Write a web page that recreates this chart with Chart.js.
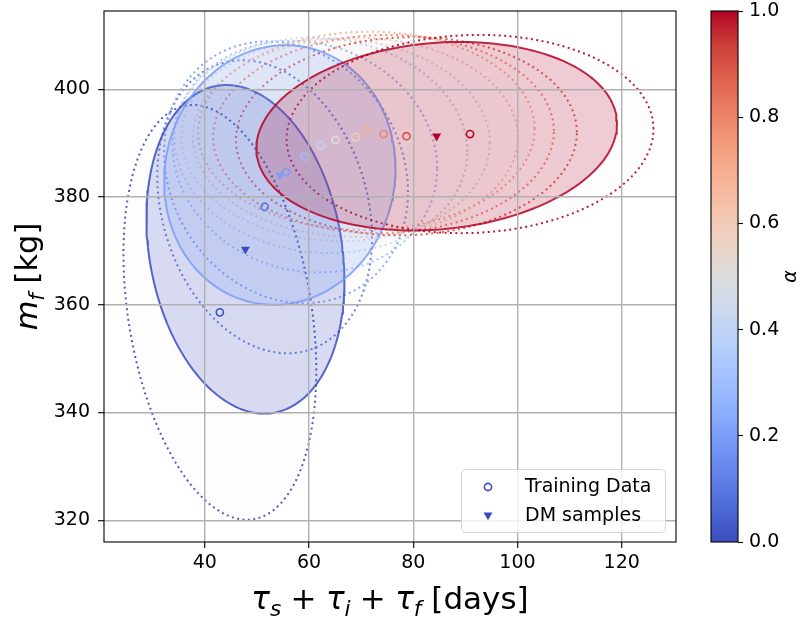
<!DOCTYPE html>
<html><head><meta charset="utf-8">
<script src="https://cdn.jsdelivr.net/npm/chart.js@4.4.1/dist/chart.umd.min.js"></script>
<style>
html,body{margin:0;padding:0;background:#fff;}
#wrap{position:relative;width:807px;height:620px;overflow:hidden;}
#main{position:absolute;left:0;top:0;}
#cbar{position:absolute;left:700px;top:0;}
</style></head><body>
<div id="wrap"><canvas id="main" width="807" height="620"></canvas><canvas id="cbar" width="107" height="620"></canvas></div>
<script>
// ---------------- data ----------------
const trainAlpha = [0.0, 0.1, 0.2, 0.3, 0.4, 0.5, 0.6, 0.7, 0.8, 0.9, 1.0];
const trainX = [42.9, 51.5, 55.6, 59.2, 62.3, 65.1, 68.9, 71.0, 74.3, 78.7, 90.9];
const trainY = [358.6, 378.2, 384.6, 387.5, 389.6, 390.6, 391.1, 392.3, 391.7, 391.3, 391.7];
// ellipse of each training set: half-width (days), half-height (kg), correlation
const trainSx = [18.5, 20.6, 23.4, 25.4, 28.1, 29.6, 31.2, 32.3, 32.7, 32.7, 35.2];
const trainSy = [38.5, 27.2, 24.3, 21.5, 20.0, 18.8, 18.5, 18.4, 18.4, 18.4, 18.4];
const trainR  = [-0.28, -0.21, -0.15, -0.10, -0.06, -0.03, 0.0, 0.02, 0.03, 0.04, 0.05];

const dmAlpha = [0.0, 0.2, 1.0];
const dmX = [47.8, 54.4, 84.5];
const dmY = [370.3, 384.1, 391.3];
const dmSx = [19.0, 22.2, 34.6];
const dmSy = [30.5, 24.1, 17.5];
const dmR  = [-0.19, 0.05, 0.13];

const xTicks = [40, 60, 80, 100, 120];
const xTickLabels = ['40', '60', '80', '100', '120'];
const yTicks = [320, 340, 360, 380, 400];
const yTickLabels = ['320', '340', '360', '380', '400'];
const cbarTicks = [0.0, 0.2, 0.4, 0.6, 0.8, 1.0];
const cbarTickLabels = ['0.0', '0.2', '0.4', '0.6', '0.8', '1.0'];
const legendLabels = ['Training Data', 'DM samples'];
const xRange = [20.67, 130.42];
const yRange = [315.97, 414.54];

// ---------------- coolwarm colormap ----------------
const CW = [[0,59,76,192],[0.0625,77,104,215],[0.125,98,130,234],[0.1875,119,154,247],[0.25,141,176,254],
 [0.3125,163,194,255],[0.375,184,208,249],[0.4375,204,217,238],[0.5,221,221,221],[0.5625,236,211,197],
 [0.625,245,196,173],[0.6875,247,177,148],[0.75,244,154,123],[0.8125,236,127,99],[0.875,222,96,77],
 [0.9375,203,62,56],[1,180,4,38]];
function cmap(v, a) {
  if (a === undefined) a = 1;
  v = Math.max(0, Math.min(1, v));
  let i = 0;
  while (i < CW.length - 2 && v > CW[i + 1][0]) i++;
  const s = CW[i], e = CW[i + 1], f = (v - s[0]) / (e[0] - s[0]);
  const c = [1, 2, 3].map(k => Math.round(s[k] + (e[k] - s[k]) * f));
  return `rgba(${c[0]},${c[1]},${c[2]},${a})`;
}
function ellipsePts(cx, cy, sx, sy, r) {
  const n = 180, q = Math.sqrt(1 - r * r), pts = [];
  for (let k = 0; k <= n; k++) {
    const t = 2 * Math.PI * k / n;
    pts.push({x: cx + sx * Math.cos(t), y: cy + sy * (r * Math.cos(t) + q * Math.sin(t))});
  }
  return pts;
}

// ---------------- datasets ----------------
const datasets = [];
datasets.push({
  label: legendLabels[0], showLine: false, order: 0,
  data: trainX.map((x, i) => ({x, y: trainY[i]})),
  pointStyle: 'circle', pointRadius: 3.6, pointBorderWidth: 1.6,
  pointBorderColor: trainAlpha.map(a => cmap(a)), pointBackgroundColor: 'rgba(0,0,0,0)'
});
datasets.push({
  label: legendLabels[1], showLine: false, order: 1,
  data: dmX.map((x, i) => ({x, y: dmY[i]})),
  pointStyle: 'triangle', pointRotation: 180, pointRadius: 5.2, pointBorderWidth: 0,
  pointBackgroundColor: dmAlpha.map(a => cmap(a)), pointBorderColor: dmAlpha.map(a => cmap(a))
});
dmAlpha.forEach((a, i) => {
  datasets.push({
    order: 4 - i,
    data: ellipsePts(dmX[i], dmY[i], dmSx[i], dmSy[i], dmR[i]),
    borderColor: cmap(a, 0.85), borderWidth: 2, backgroundColor: cmap(a, 0.2),
    fill: 'shape', pointRadius: 0, pointHitRadius: 0, tension: 0
  });
});
trainAlpha.forEach((a, i) => {
  datasets.push({
    order: 30 - i,
    data: ellipsePts(trainX[i], trainY[i], trainSx[i], trainSy[i], trainR[i]),
    borderColor: cmap(a, 0.9), borderWidth: 2, borderDash: [2, 3.4], borderCapStyle: 'butt',
    backgroundColor: 'rgba(0,0,0,0.006)', fill: 'shape', pointRadius: 0, pointHitRadius: 0, tension: 0
  });
});

// ---------------- helpers ----------------
const FAM = 'DejaVu Sans';
function drawRich(ctx, parts, size, cx, cy, rot) {
  ctx.save();
  ctx.translate(cx, cy);
  ctx.rotate(rot);
  ctx.textBaseline = 'alphabetic';
  ctx.textAlign = 'left';
  const fontFor = p => `${p.it ? 'italic ' : ''}${p.sub ? size * 0.7 : size}px ${FAM}`;
  let w = 0;
  parts.forEach(p => { ctx.font = fontFor(p); w += (p.pad || 0) * size * 2 + ctx.measureText(p.t).width; });
  let x = -w / 2;
  parts.forEach(p => {
    ctx.font = fontFor(p);
    x += (p.pad || 0) * size;
    ctx.fillText(p.t, x, p.sub ? size * 0.22 : 0);
    x += ctx.measureText(p.t).width + (p.pad || 0) * size;
  });
  ctx.restore();
}
function noPadY(s) { s.paddingTop = 0; s.paddingBottom = 0; }
function noPadX(s) { s.paddingLeft = 0; s.paddingRight = 0; }

const mainPlugin = {
  id: 'mainDeco',
  afterDraw(chart) {
    const ctx = chart.ctx, a = chart.chartArea;
    ctx.save();
    ctx.strokeStyle = '#000'; ctx.lineWidth = 1.1;
    ctx.strokeRect(a.left, a.top, a.right - a.left, a.bottom - a.top);
    // axis labels
    ctx.fillStyle = '#000';
    drawRich(ctx, [{t: 'τ', it: 1}, {t: 's', it: 1, sub: 1}, {t: '+', pad: 0.3}, {t: 'τ', it: 1}, {t: 'i', it: 1, sub: 1},
      {t: '+', pad: 0.3}, {t: 'τ', it: 1}, {t: 'f', it: 1, sub: 1}, {t: ' [days]'}], 31, (a.left + a.right) / 2, 609, 0);
    drawRich(ctx, [{t: 'm', it: 1}, {t: 'f', it: 1, sub: 1}, {t: ' [kg]'}], 30.5, 37, (a.top + a.bottom) / 2, -Math.PI / 2);
    // legend
    ctx.beginPath();
    ctx.roundRect(461.5, 469.5, 204, 63, 4);
    ctx.fillStyle = 'rgba(255,255,255,0.8)'; ctx.fill();
    ctx.strokeStyle = '#d4d4d4'; ctx.lineWidth = 1; ctx.stroke();
    ctx.beginPath(); ctx.arc(488, 487, 3.6, 0, 2 * Math.PI);
    ctx.strokeStyle = cmap(0); ctx.lineWidth = 1.6; ctx.stroke();
    ctx.beginPath(); ctx.moveTo(483.5, 512.5); ctx.lineTo(492.5, 512.5); ctx.lineTo(488, 520.3); ctx.closePath();
    ctx.fillStyle = cmap(0); ctx.fill();
    ctx.fillStyle = '#000'; ctx.font = `19px ${FAM}`; ctx.textBaseline = 'middle'; ctx.textAlign = 'left';
    ctx.fillText(legendLabels[0], 525, 487);
    ctx.fillText(legendLabels[1], 525, 516);
    ctx.restore();
  }
};

Chart.defaults.font.family = FAM;
Chart.defaults.font.size = 19;
Chart.defaults.color = '#000';

new Chart(document.getElementById('main'), {
  type: 'line',
  data: {datasets},
  options: {
    responsive: false, animation: false, devicePixelRatio: 1,
    layout: {padding: {left: 0, right: 131, top: 11, bottom: 0}, autoPadding: false},
    plugins: {legend: {display: false}, tooltip: {enabled: false}},
    scales: {
      x: {
        type: 'linear', min: xRange[0], max: xRange[1],
        afterFit: s => { s.height = 78; noPadX(s); },
        afterBuildTicks: s => { s.ticks = xTicks.map(v => ({value: v})); },
        ticks: {callback: (v, i) => xTickLabels[i], padding: 4, maxRotation: 0, autoSkip: false, color: '#000'},
        grid: {color: '#b0b0b0', lineWidth: 1.4, tickColor: '#000', tickLength: 6, tickWidth: 1.1, z: 1},
        border: {display: false}
      },
      y: {
        type: 'linear', min: yRange[0], max: yRange[1],
        afterFit: s => { s.width = 104; noPadY(s); },
        afterBuildTicks: s => { s.ticks = yTicks.map(v => ({value: v})); },
        ticks: {callback: (v, i) => yTickLabels[i], padding: 8, autoSkip: false, color: '#000'},
        grid: {color: '#b0b0b0', lineWidth: 1.4, tickColor: '#000', tickLength: 6, tickWidth: 1.1, z: 1},
        border: {display: false}
      }
    }
  },
  plugins: [mainPlugin]
});

// ---------------- colorbar ----------------
const cbarPlugin = {
  id: 'cbarDeco',
  beforeDatasetsDraw(chart) {
    const ctx = chart.ctx, a = chart.chartArea;
    const g = ctx.createLinearGradient(0, a.bottom, 0, a.top);
    CW.forEach(s => g.addColorStop(s[0], cmap(s[0])));
    ctx.save(); ctx.fillStyle = g; ctx.fillRect(a.left, a.top, a.right - a.left, a.bottom - a.top); ctx.restore();
  },
  afterDraw(chart) {
    const ctx = chart.ctx, a = chart.chartArea;
    ctx.save();
    ctx.strokeStyle = '#000'; ctx.lineWidth = 1.1;
    ctx.strokeRect(a.left, a.top, a.right - a.left, a.bottom - a.top);
    ctx.fillStyle = '#000';
    drawRich(ctx, [{t: 'α', it: 1}], 19, 96, (a.top + a.bottom) / 2, -Math.PI / 2);
    ctx.restore();
  }
};
new Chart(document.getElementById('cbar'), {
  type: 'scatter',
  data: {datasets: []},
  options: {
    responsive: false, animation: false, devicePixelRatio: 1,
    layout: {padding: {left: 11, right: 0, top: 11, bottom: 78}, autoPadding: false},
    plugins: {legend: {display: false}, tooltip: {enabled: false}},
    scales: {
      x: {display: false, min: 0, max: 1},
      y: {
        position: 'right', min: 0, max: 1,
        afterFit: s => { s.width = 69; noPadY(s); },
        afterBuildTicks: s => { s.ticks = cbarTicks.map(v => ({value: v})); },
        ticks: {callback: (v, i) => cbarTickLabels[i], padding: 6, autoSkip: false, color: '#000'},
        grid: {drawOnChartArea: false, tickColor: '#000', tickLength: 5, tickWidth: 1.1},
        border: {display: false}
      }
    }
  },
  plugins: [cbarPlugin]
});
</script>
</body></html>
